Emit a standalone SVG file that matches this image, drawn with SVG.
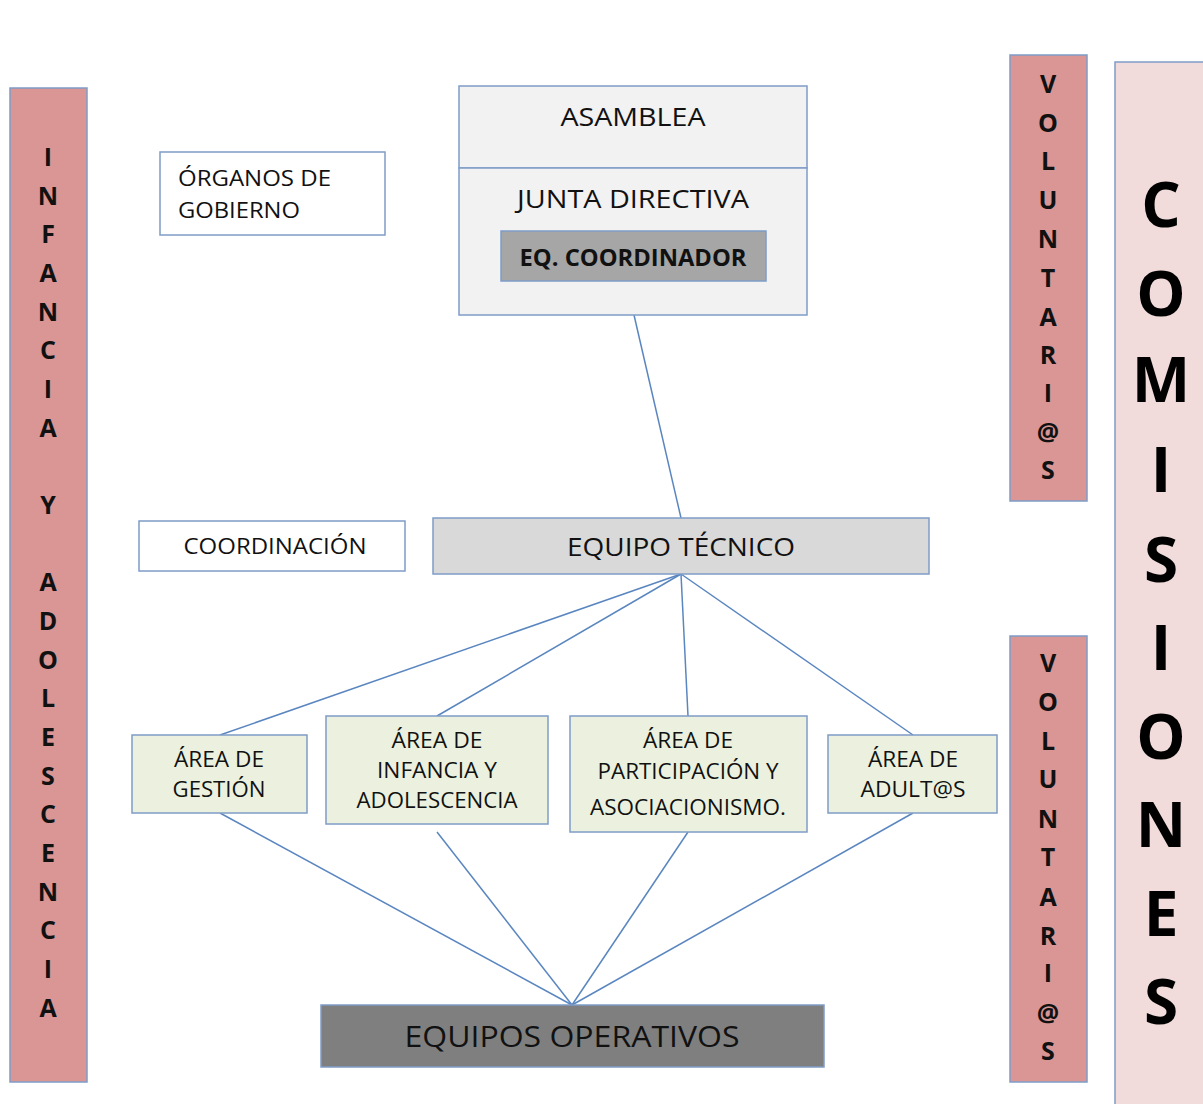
<svg xmlns="http://www.w3.org/2000/svg" width="1203" height="1104" viewBox="0 0 1203 1104">
<style>
.box{stroke:#7f9cc8;stroke-width:1.5}
.t{font-family:"Open Sans","Noto Sans",sans-serif;fill:#111;text-anchor:middle}
.tl{font-family:"Open Sans","Noto Sans",sans-serif;fill:#111}
.v{font-family:"Open Sans","Noto Sans",sans-serif;font-weight:bold;font-size:25px;fill:#111;text-anchor:middle}
.c{font-family:"Open Sans","Noto Sans",sans-serif;font-weight:bold;font-size:62px;fill:#000;text-anchor:middle}
.area{fill:#ebf1de}
.conn line{stroke:#5a86c0;stroke-width:1.5}
</style>
<rect width="1203" height="1104" fill="#ffffff"/>

<g id="connectors" class="conn">
<line x1="634" y1="315" x2="681" y2="518"/>
<line x1="681" y1="574" x2="220" y2="735"/>
<line x1="681" y1="574" x2="437" y2="716"/>
<line x1="681" y1="574" x2="688" y2="716"/>
<line x1="681" y1="574" x2="913" y2="735"/>
<line x1="220" y1="813" x2="572" y2="1005"/>
<line x1="437" y1="832" x2="572" y2="1005"/>
<line x1="688" y1="832" x2="572" y2="1005"/>
<line x1="913" y1="813" x2="572" y2="1005"/>
</g>

<g id="infancia-bar">
<rect class="box" x="10" y="88" width="77" height="994" fill="#d99694"/>
<text class="v" x="48" y="166">I</text>
<text class="v" x="48" y="205">N</text>
<text class="v" x="48" y="243">F</text>
<text class="v" x="48" y="282">A</text>
<text class="v" x="48" y="321">N</text>
<text class="v" x="48" y="359">C</text>
<text class="v" x="48" y="398">I</text>
<text class="v" x="48" y="437">A</text>
<text class="v" x="48" y="514">Y</text>
<text class="v" x="48" y="591">A</text>
<text class="v" x="48" y="630">D</text>
<text class="v" x="48" y="669">O</text>
<text class="v" x="48" y="707">L</text>
<text class="v" x="48" y="746">E</text>
<text class="v" x="48" y="785">S</text>
<text class="v" x="48" y="823">C</text>
<text class="v" x="48" y="862">E</text>
<text class="v" x="48" y="901">N</text>
<text class="v" x="48" y="939">C</text>
<text class="v" x="48" y="978">I</text>
<text class="v" x="48" y="1017">A</text>
</g>

<g id="voluntarios-top">
<rect class="box" x="1010" y="55" width="77" height="446" fill="#d99694"/>
<text class="v" x="1048" y="93">V</text>
<text class="v" x="1048" y="132">O</text>
<text class="v" x="1048" y="170">L</text>
<text class="v" x="1048" y="209">U</text>
<text class="v" x="1048" y="248">N</text>
<text class="v" x="1048" y="287">T</text>
<text class="v" x="1048" y="326">A</text>
<text class="v" x="1048" y="364">R</text>
<text class="v" x="1048" y="402">I</text>
<text class="v" x="1048" y="441">@</text>
<text class="v" x="1048" y="479">S</text>
</g>

<g id="voluntarios-bottom">
<rect class="box" x="1010" y="636" width="77" height="446" fill="#d99694"/>
<text class="v" x="1048" y="672">V</text>
<text class="v" x="1048" y="711">O</text>
<text class="v" x="1048" y="750">L</text>
<text class="v" x="1048" y="788">U</text>
<text class="v" x="1048" y="828">N</text>
<text class="v" x="1048" y="866">T</text>
<text class="v" x="1048" y="906">A</text>
<text class="v" x="1048" y="945">R</text>
<text class="v" x="1048" y="982">I</text>
<text class="v" x="1048" y="1022">@</text>
<text class="v" x="1048" y="1060">S</text>
</g>

<g id="comisiones">
<rect class="box" x="1115" y="62" width="100" height="1060" fill="#f2dcdb"/>
<text class="c" x="1161" y="227">C</text>
<text class="c" x="1161" y="316">O</text>
<text class="c" x="1161" y="402">M</text>
<text class="c" x="1161" y="492">I</text>
<text class="c" x="1161" y="582">S</text>
<text class="c" x="1161" y="670">I</text>
<text class="c" x="1161" y="759">O</text>
<text class="c" x="1161" y="847">N</text>
<text class="c" x="1161" y="936">E</text>
<text class="c" x="1161" y="1024">S</text>
</g>

<g id="organos-gobierno">
<rect class="box" x="160" y="152" width="225" height="83" fill="#ffffff"/>
<text class="tl" x="178" y="186" font-size="21" textLength="153" lengthAdjust="spacingAndGlyphs">ÓRGANOS DE</text>
<text class="tl" x="178" y="218" font-size="21" textLength="122" lengthAdjust="spacingAndGlyphs">GOBIERNO</text>
</g>

<g id="asamblea">
<rect class="box" x="459" y="86" width="348" height="82" fill="#f2f2f2"/>
<text class="t" x="633" y="126" font-size="26" textLength="145" lengthAdjust="spacingAndGlyphs">ASAMBLEA</text>
</g>

<g id="junta-directiva">
<rect class="box" x="459" y="168" width="348" height="147" fill="#f2f2f2"/>
<text class="t" x="633" y="208" font-size="26" textLength="232" lengthAdjust="spacingAndGlyphs">JUNTA DIRECTIVA</text>
</g>

<g id="eq-coordinador">
<rect class="box" x="501" y="231" width="265" height="50" fill="#a6a6a6"/>
<text class="t" x="633" y="266" font-size="23" font-weight="bold" textLength="227" lengthAdjust="spacingAndGlyphs">EQ. COORDINADOR</text>
</g>

<g id="coordinacion">
<rect class="box" x="139" y="521" width="266" height="50" fill="#ffffff"/>
<text class="t" x="275" y="554" font-size="22" textLength="183" lengthAdjust="spacingAndGlyphs">COORDINACIÓN</text>
</g>

<g id="equipo-tecnico">
<rect class="box" x="433" y="518" width="496" height="56" fill="#d9d9d9"/>
<text class="t" x="681" y="556" font-size="25" textLength="228" lengthAdjust="spacingAndGlyphs">EQUIPO TÉCNICO</text>
</g>

<g id="area-gestion">
<rect class="box area" x="132" y="735" width="175" height="78"/>
<text class="t" x="219" y="767" font-size="22" textLength="90" lengthAdjust="spacingAndGlyphs">ÁREA DE</text>
<text class="t" x="219" y="797" font-size="22" textLength="93" lengthAdjust="spacingAndGlyphs">GESTIÓN</text>
</g>

<g id="area-infancia">
<rect class="box area" x="326" y="716" width="222" height="108"/>
<text class="t" x="437" y="748" font-size="22" textLength="91" lengthAdjust="spacingAndGlyphs">ÁREA DE</text>
<text class="t" x="437" y="778" font-size="22" textLength="120" lengthAdjust="spacingAndGlyphs">INFANCIA Y</text>
<text class="t" x="437" y="808" font-size="22" textLength="161" lengthAdjust="spacingAndGlyphs">ADOLESCENCIA</text>
</g>

<g id="area-participacion">
<rect class="box area" x="570" y="716" width="237" height="116"/>
<text class="t" x="688" y="748" font-size="22" textLength="90" lengthAdjust="spacingAndGlyphs">ÁREA DE</text>
<text class="t" x="688" y="779" font-size="22" textLength="181" lengthAdjust="spacingAndGlyphs">PARTICIPACIÓN Y</text>
<text class="t" x="688" y="815" font-size="22" textLength="196" lengthAdjust="spacingAndGlyphs">ASOCIACIONISMO.</text>
</g>

<g id="area-adultos">
<rect class="box area" x="828" y="735" width="169" height="78"/>
<text class="t" x="913" y="767" font-size="22" textLength="90" lengthAdjust="spacingAndGlyphs">ÁREA DE</text>
<text class="t" x="913" y="797" font-size="22" textLength="105" lengthAdjust="spacingAndGlyphs">ADULT@S</text>
</g>

<g id="equipos-operativos">
<rect class="box" x="321" y="1005" width="503" height="62" fill="#7f7f7f"/>
<text class="t" x="572" y="1047" font-size="30" textLength="335" lengthAdjust="spacingAndGlyphs">EQUIPOS OPERATIVOS</text>
</g>
</svg>
